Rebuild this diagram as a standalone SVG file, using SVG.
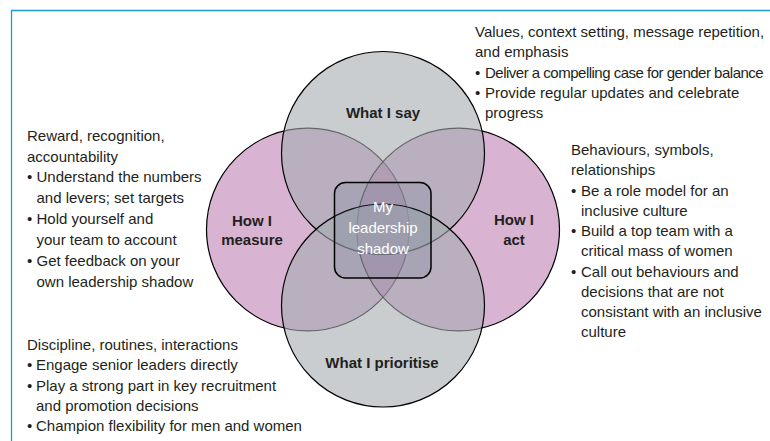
<svg xmlns="http://www.w3.org/2000/svg" width="770" height="441" viewBox="0 0 770 441">
  <style>
    text { font-family: "Liberation Sans", Arial, sans-serif; fill: #231f20; }
    .body { font-size: 15px; }
    .tight { letter-spacing: -0.5px; }
    .label { font-size: 15px; font-weight: bold; text-anchor: middle; }
    .centre { font-size: 15px; fill: #ffffff; text-anchor: middle; }
    .pink { fill: rgba(168, 88, 156, 0.45); stroke: #000000; stroke-width: 1.2; }
    .grey { fill: rgba(165, 172, 177, 0.6); stroke: #000000; stroke-width: 1.2; }
    .frame { fill: none; stroke: #1d9bd1; stroke-width: 1.3; }
  </style>

  <rect width="770" height="441" fill="#ffffff"/>

  <!-- panel frame: top and left rule -->
  <path class="frame" d="M11.5,441 V10.5 H770"/>

  <!-- Venn circles, drawn in stacking order -->
  <g id="how-i-measure">
    <circle class="pink" cx="307.8" cy="229.5" r="101.3"/>
    <text class="label" x="252" y="226">How I</text>
    <text class="label" x="252" y="244.5">measure</text>
  </g>

  <g id="how-i-act">
    <circle class="pink" cx="458.2" cy="229.5" r="101.3"/>
    <text class="label" x="514" y="225">How I</text>
    <text class="label" x="514" y="244.5">act</text>
  </g>

  <g id="what-i-say">
    <circle class="grey" cx="383" cy="153" r="101.5"/>
    <text class="label" x="383" y="118">What I say</text>
  </g>

  <g id="what-i-prioritise">
    <circle class="grey" cx="383" cy="305.5" r="101.5"/>
    <text class="label" x="382" y="368">What I prioritise</text>
  </g>

  <!-- centre box -->
  <g id="my-leadership-shadow">
    <rect x="334.5" y="182.5" width="96.5" height="95.5" rx="11" ry="11" fill="rgba(100, 120, 150, 0.2)" stroke="#000000" stroke-width="1.5"/>
    <text class="centre" x="383" y="211.5">My</text>
    <text class="centre" x="383" y="233">leadership</text>
    <text class="centre" x="383" y="253.5">shadow</text>
  </g>

  <!-- annotation blocks -->
  <g id="say-notes">
    <text class="body">
      <tspan x="475" y="37">Values, context setting, message repetition,</tspan>
      <tspan x="475" y="57.3">and emphasis</tspan>
      <tspan x="475" y="77.6">•</tspan><tspan class="tight" x="485" y="77.6">Deliver a compelling case for gender balance</tspan>
      <tspan x="475" y="97.9">•</tspan><tspan x="485" y="97.9">Provide regular updates and celebrate</tspan>
      <tspan x="485" y="118.2">progress</tspan>
    </text>
  </g>

  <g id="measure-notes">
    <text class="body">
      <tspan x="27" y="140.7">Reward, recognition,</tspan>
      <tspan x="27" y="161.5">accountability</tspan>
      <tspan x="27" y="182.4">•</tspan><tspan x="36.5" y="182.4">Understand the numbers</tspan>
      <tspan x="36.5" y="203.2">and levers; set targets</tspan>
      <tspan x="27" y="224.1">•</tspan><tspan x="36.5" y="224.1">Hold yourself and</tspan>
      <tspan x="36.5" y="244.9">your team to account</tspan>
      <tspan x="27" y="265.8">•</tspan><tspan x="36.5" y="265.8">Get feedback on your</tspan>
      <tspan x="36.5" y="286.6">own leadership shadow</tspan>
    </text>
  </g>

  <g id="act-notes">
    <text class="body">
      <tspan x="571" y="155">Behaviours, symbols,</tspan>
      <tspan x="571" y="175.3">relationships</tspan>
      <tspan x="571" y="195.5">•</tspan><tspan x="581" y="195.5">Be a role model for an</tspan>
      <tspan x="581" y="215.8">inclusive culture</tspan>
      <tspan x="571" y="236">•</tspan><tspan x="581" y="236">Build a top team with a</tspan>
      <tspan x="581" y="256.3">critical mass of women</tspan>
      <tspan x="571" y="276.5">•</tspan><tspan x="581" y="276.5">Call out behaviours and</tspan>
      <tspan x="581" y="296.8">decisions that are not</tspan>
      <tspan x="581" y="317">consistant with an inclusive</tspan>
      <tspan x="581" y="337.3">culture</tspan>
    </text>
  </g>

  <g id="prioritise-notes">
    <text class="body">
      <tspan x="27" y="350">Discipline, routines, interactions</tspan>
      <tspan x="27" y="370.3">•</tspan><tspan x="36" y="370.3">Engage senior leaders directly</tspan>
      <tspan x="27" y="390.5">•</tspan><tspan x="36" y="390.5">Play a strong part in key recruitment</tspan>
      <tspan x="36" y="410.8">and promotion decisions</tspan>
      <tspan x="27" y="431">•</tspan><tspan x="36" y="431">Champion flexibility for men and women</tspan>
    </text>
  </g>
</svg>
